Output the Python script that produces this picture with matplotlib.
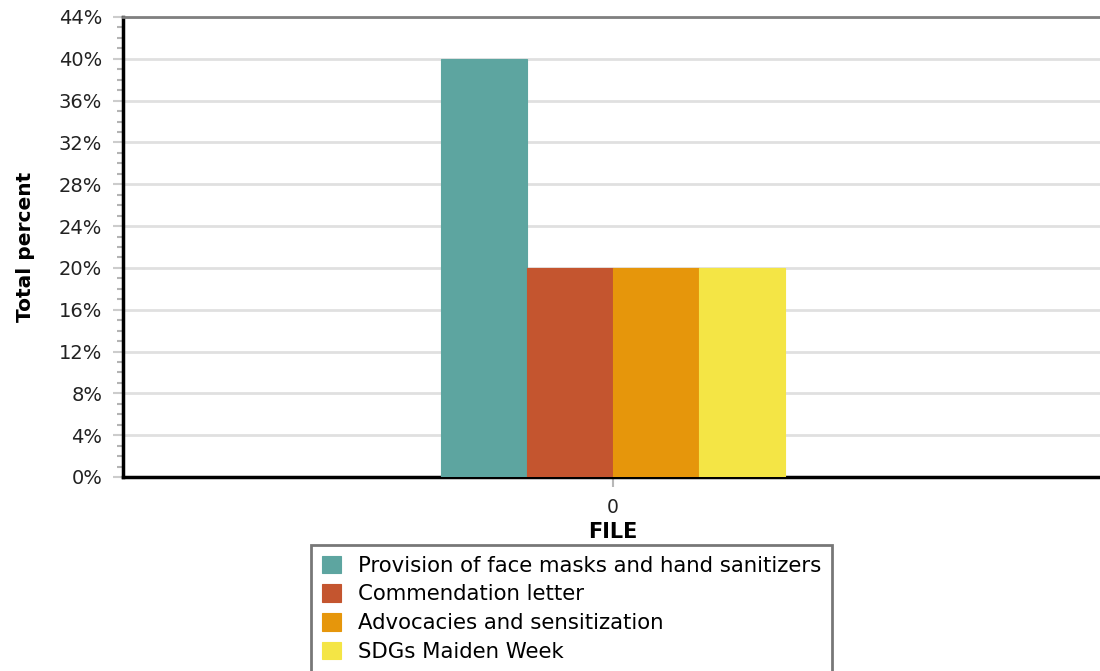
import matplotlib
matplotlib.use('Agg')
from matplotlib import pyplot as plt
from matplotlib.ticker import MultipleLocator, FuncFormatter
import numpy as np

plt.rcParams['font.family'] = ['DejaVu Sans']

categories = ['0']
series_names = ['Provision of face masks and hand sanitizers',
                'Commendation letter',
                'Advocacies and sensitization',
                'SDGs Maiden Week']
series_values = [[40], [20], [20], [20]]
colors = ['#5da5a0', '#c4552f', '#e6960b', '#f4e545']
y_ticks = list(range(0, 45, 4))

fig = plt.figure(figsize=(11, 6.71), dpi=100)
ax = fig.add_axes([123 / 1100, 1 - 477 / 671, 980 / 1100, 460 / 671])

x = np.arange(len(categories))
bar_w = 0.0878
n = len(series_names)
for i, (name, vals) in enumerate(zip(series_names, series_values)):
    offset = (i - (n - 1) / 2) * bar_w
    ax.bar(x + offset, vals, width=bar_w, color=colors[i], label=name,
           edgecolor=colors[i], linewidth=0.8, zorder=3)

ax.set_xlim(-0.5, 0.5)
ax.set_ylim(0, 44)
ax.set_yticks(y_ticks)
ax.yaxis.set_minor_locator(MultipleLocator(1))
ax.yaxis.set_major_formatter(FuncFormatter(lambda v, p: '%d%%' % v))
ax.set_xticks(x)
ax.set_xticklabels(categories)

ax.grid(axis='y', color='#e0e0e0', linewidth=2, zorder=0)
ax.set_axisbelow(True)

ax.spines['right'].set_visible(False)
ax.spines['top'].set_color('#808080')
ax.spines['top'].set_linewidth(2)
ax.spines['left'].set_color('black')
ax.spines['left'].set_linewidth(2.5)
ax.spines['bottom'].set_color('black')
ax.spines['bottom'].set_linewidth(2.5)

ax.tick_params(axis='y', which='major', length=7, width=1.5, color='#cccccc',
               labelsize=14, labelcolor='#222222', pad=8)
ax.tick_params(axis='y', which='minor', length=4, width=1.5, color='#b4b4b4')
ax.tick_params(axis='x', which='major', length=7, width=1.5, color='#b8b8b8',
               labelsize=13.5, labelcolor='#222222', pad=8)

ax.set_ylabel('Total percent', fontsize=14.5, fontweight='bold', labelpad=17)
ax.set_xlabel('FILE', fontsize=15, fontweight='bold', labelpad=4)

leg = fig.legend(loc='upper left', bbox_to_anchor=(311 / 1100, 1 - 545 / 671),
                 fontsize=15.3, frameon=True, fancybox=False, handlelength=0.9,
                 handleheight=0.9, handletextpad=0.8, labelspacing=0.4,
                 borderpad=0.5, borderaxespad=0)
leg.get_frame().set_edgecolor('#555555')
leg.get_frame().set_linewidth(2)

fig.savefig('out.png', dpi=100)
